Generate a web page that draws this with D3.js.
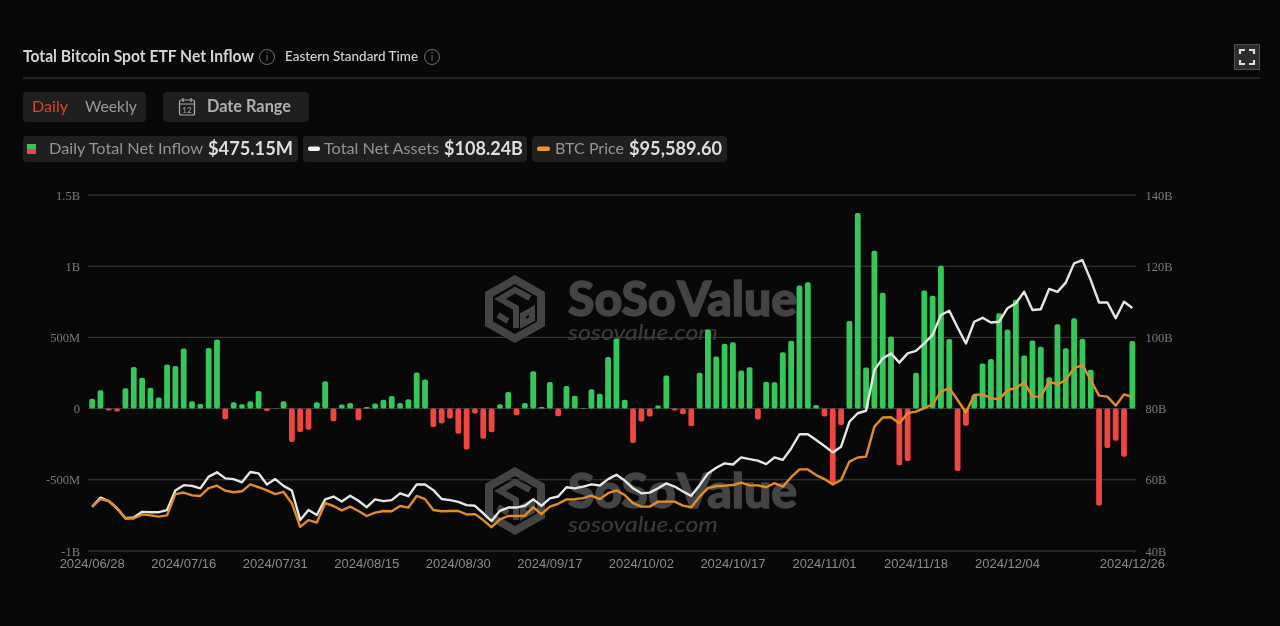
<!doctype html>
<html lang="en">
<head>
  <meta charset="utf-8">
  <title>Total Bitcoin Spot ETF Net Inflow</title>
  <style>
    html, body { margin: 0; background: #080808; overflow: hidden; }
    svg { display: block; font-family: Lato, sans-serif; filter: blur(0.35px); }
  </style>
</head>
<body>
  <script src="https://cdn.jsdelivr.net/npm/d3@7"></script>
  <script>
    // Trading days shown on the x axis
    const dates = [
      '2024/06/28','2024/07/01','2024/07/02','2024/07/03','2024/07/05','2024/07/08','2024/07/09','2024/07/10','2024/07/11','2024/07/12',
      '2024/07/15','2024/07/16','2024/07/17','2024/07/18','2024/07/19','2024/07/22','2024/07/23','2024/07/24','2024/07/25','2024/07/26',
      '2024/07/29','2024/07/30','2024/07/31','2024/08/01','2024/08/02','2024/08/05','2024/08/06','2024/08/07','2024/08/08','2024/08/09',
      '2024/08/12','2024/08/13','2024/08/14','2024/08/15','2024/08/16','2024/08/19','2024/08/20','2024/08/21','2024/08/22','2024/08/23',
      '2024/08/26','2024/08/27','2024/08/28','2024/08/29','2024/08/30','2024/09/03','2024/09/04','2024/09/05','2024/09/06','2024/09/09',
      '2024/09/10','2024/09/11','2024/09/12','2024/09/13','2024/09/16','2024/09/17','2024/09/18','2024/09/19','2024/09/20','2024/09/23',
      '2024/09/24','2024/09/25','2024/09/26','2024/09/27','2024/09/30','2024/10/01','2024/10/02','2024/10/03','2024/10/04','2024/10/07',
      '2024/10/08','2024/10/09','2024/10/10','2024/10/11','2024/10/14','2024/10/15','2024/10/16','2024/10/17','2024/10/18','2024/10/21',
      '2024/10/22','2024/10/23','2024/10/24','2024/10/25','2024/10/28','2024/10/29','2024/10/30','2024/10/31','2024/11/01','2024/11/04',
      '2024/11/05','2024/11/06','2024/11/07','2024/11/08','2024/11/11','2024/11/12','2024/11/13','2024/11/14','2024/11/15','2024/11/18',
      '2024/11/19','2024/11/20','2024/11/21','2024/11/22','2024/11/25','2024/11/26','2024/11/27','2024/11/29','2024/12/02','2024/12/03',
      '2024/12/04','2024/12/05','2024/12/06','2024/12/09','2024/12/10','2024/12/11','2024/12/12','2024/12/13','2024/12/16','2024/12/17',
      '2024/12/18','2024/12/19','2024/12/20','2024/12/23','2024/12/24','2024/12/26'
    ];

    // Daily total net inflow, $M
    const netInflow = [
      70,129,-13,-20,143,293,216,147,78,310,
      300,422,52,33,425,486,-75,45,30,52,
      124,-17,2,52,-235,-165,-148,45,192,-88,
      28,40,-82,12,35,63,89,40,66,253,
      204,-129,-105,-70,-176,-288,-35,-211,-166,30,
      117,-47,40,263,12,187,-54,159,91,5,
      136,105,363,492,63,-241,-91,-56,21,232,
      -14,-40,-124,251,555,366,455,466,267,290,
      -77,188,185,396,476,865,888,26,-56,-523,
      -115,616,1374,288,1109,813,506,-398,-368,251,
      830,792,1003,488,-438,-120,98,316,349,670,
      555,764,373,478,434,220,593,424,635,490,
      272,-680,-277,-225,-338,475
    ];

    // Total net assets, $B
    const netAssets = [
      52.4,55.0,54.0,52.0,49.2,49.4,51.0,50.9,50.9,51.5,
      57.0,58.5,58.3,57.6,60.9,62.1,60.4,60.2,59.3,62.2,
      61.8,58.7,60.2,58.3,57.0,48.7,51.5,50.1,54.5,55.3,
      53.9,55.5,54.1,52.3,54.5,54.0,54.3,56.2,55.4,58.7,
      58.7,57.1,54.6,54.3,53.8,52.9,52.7,50.6,48.4,51.3,
      52.2,52.2,52.7,54.5,52.7,54.8,55.3,57.9,57.6,58.1,
      58.7,58.4,60.2,61.4,59.8,57.6,56.2,56.4,57.6,59.0,
      58.1,56.7,55.5,58.5,61.8,63.4,64.6,64.3,66.3,65.8,
      65.4,64.4,66.3,65.6,68.8,72.8,72.8,71.2,69.5,67.7,
      69.3,76.3,78.7,79.4,90.8,94.1,95.5,92.9,95.5,96.2,
      98.3,100.7,106.3,107.5,102.8,98.3,104.4,105.5,104.2,104.4,
      108.2,109.6,112.8,107.7,107.9,113.6,112.8,115.4,120.8,121.7,
      116.1,109.8,109.8,105.4,110.0,108.24
    ];

    // BTC price, $K
    const btcPrice = [
      60.5,62.9,62.3,59.9,56.7,56.7,58.0,57.7,57.3,57.7,
      64.5,65.0,64.1,63.9,66.4,67.2,65.6,65.1,65.4,67.6,
      66.7,65.7,64.5,65.2,61.6,54.0,56.2,55.4,61.6,60.7,
      59.3,60.5,59.1,57.5,58.6,59.1,59.0,60.7,60.2,63.9,
      62.9,59.4,59.0,59.1,59.1,58.0,58.1,56.2,53.9,56.4,
      57.5,57.5,57.6,60.3,58.1,60.5,61.4,62.8,62.9,63.2,
      64.0,62.9,64.8,65.7,64.2,61.6,60.5,60.5,62.1,62.1,
      62.1,60.8,60.3,63.7,66.4,67.1,67.2,67.4,68.2,67.3,
      67.3,66.7,68.0,66.9,69.9,72.4,72.4,70.6,69.3,67.6,
      69.0,74.9,76.2,76.5,86.1,89.0,89.1,87.2,90.4,90.9,
      92.0,93.2,97.3,98.4,94.6,90.6,96.2,96.4,95.2,94.8,
      97.8,98.4,100.3,95.7,95.7,100.5,99.6,101.0,104.8,105.8,
      101.0,96.0,95.7,92.8,96.4,95.59
    ];

    // Tick values and labels
    const xTicks = ['2024/06/28','2024/07/16','2024/07/31','2024/08/15','2024/08/30','2024/09/17','2024/10/02','2024/10/17','2024/11/01','2024/11/18','2024/12/04','2024/12/26'];
    const leftTicks = [-1000,-500,0,500,1000,1500];
    const leftLabels = ['-1B','-500M','0','500M','1B','1.5B'];
    const rightTicks = [40,60,80,100,120,140];
    const rightLabels = ['40B','60B','80B','100B','120B','140B'];

    const w = 1280;
    const h = 626;
    const bg = '#080808';
    const plot = { left: 88, right: 1136.5, top: 195, bottom: 551 };

    const svg = d3.select('body')
                  .append('svg')
                  .attr('width', w)
                  .attr('height', h);

    svg.append('rect').attr('width', w).attr('height', h).attr('fill', bg);

    // Scales: the price line has its own hidden axis
    const xScale = d3.scaleBand().domain(dates).range([plot.left, plot.right]);
    const yInflow = d3.scaleLinear().domain([-1000, 1500]).range([plot.bottom, plot.top]);
    const yAssets = d3.scaleLinear().domain([40, 140]).range([plot.bottom, plot.top]);
    const yPrice = d3.scaleLinear().domain([46.3, 160.2]).range([plot.bottom, plot.top]);
    const xMid = (d) => xScale(d) + xScale.bandwidth() / 2;

    // Helper for header text, squeezed to the width seen in the picture
    function label(text, x, y, size, weight, color, width) {
      return svg.append('text')
                .attr('x', x)
                .attr('y', y)
                .attr('font-size', size)
                .attr('font-weight', weight)
                .attr('fill', color)
                .attr('textLength', width)
                .attr('lengthAdjust', 'spacingAndGlyphs')
                .text(text);
    }

    function infoIcon(cx, cy) {
      svg.append('circle').attr('cx', cx).attr('cy', cy).attr('r', 7.5).attr('fill', 'none').attr('stroke', '#6e6e6e').attr('stroke-width', 1);
      svg.append('text').attr('x', cx).attr('y', cy + 4).attr('text-anchor', 'middle').attr('font-size', 11).attr('fill', '#6e6e6e').text('i');
    }

    function chip(x, y, width, height) {
      svg.append('rect').attr('x', x).attr('y', y).attr('width', width).attr('height', height).attr('rx', 4).attr('fill', '#1f1f1f');
    }

    // Header
    label('Total Bitcoin Spot ETF Net Inflow', 23, 62, 17, 700, '#d4d4d4', 231);
    infoIcon(267, 57);
    label('Eastern Standard Time', 285, 61, 14, 500, '#d4d4d4', 133);
    infoIcon(432, 57);
    svg.append('line').attr('x1', 23).attr('x2', 1260).attr('y1', 78).attr('y2', 78).attr('stroke', '#404040');

    // Fullscreen button
    svg.append('rect').attr('x', 1234.5).attr('y', 44.5).attr('width', 25).attr('height', 25).attr('fill', '#2c2c2c').attr('stroke', '#505050');
    svg.append('path')
       .attr('d', 'M1240 54v-4h5M1249 50h5v4M1254 60v4h-5M1245 64h-5v-4')
       .attr('fill', 'none').attr('stroke', '#dddddd').attr('stroke-width', 2.2);

    // Daily / Weekly and Date Range
    chip(23, 92, 123, 30);
    label('Daily', 32, 112, 16, 400, '#d9472b', 36);
    label('Weekly', 85, 112, 16, 400, '#999999', 52);
    chip(163, 92, 146, 30);
    svg.append('rect').attr('x', 179.5).attr('y', 100).attr('width', 15).attr('height', 15).attr('rx', 2).attr('fill', 'none').attr('stroke', '#aaa').attr('stroke-width', 1.2);
    svg.append('path').attr('d', 'M180 104h14M183 98v4M191 98v4').attr('stroke', '#aaa').attr('stroke-width', 1.2);
    svg.append('text').attr('x', 187).attr('y', 113).attr('text-anchor', 'middle').attr('font-size', 8).attr('fill', '#aaa').text('12');
    label('Date Range', 207, 112, 16.5, 700, '#b0b0b0', 84);

    // Legend chips
    chip(23, 136, 275, 26);
    chip(303, 136, 224, 26);
    chip(532, 136, 195, 26);
    svg.append('rect').attr('x', 27).attr('y', 144).attr('width', 9).attr('height', 5).attr('fill', '#34c759');
    svg.append('rect').attr('x', 27).attr('y', 149).attr('width', 9).attr('height', 5).attr('fill', '#ef4444');
    svg.append('rect').attr('x', 308).attr('y', 146.5).attr('width', 12).attr('height', 4.5).attr('rx', 2).attr('fill', '#f2f2f2');
    svg.append('rect').attr('x', 537).attr('y', 146.5).attr('width', 13).attr('height', 4.5).attr('rx', 2).attr('fill', '#f0952b');
    label('Daily Total Net Inflow', 49, 154, 16, 400, '#949494', 154);
    label('$475.15M', 208, 155, 18.5, 700, '#dedede', 85);
    label('Total Net Assets', 324, 154, 16, 400, '#949494', 115);
    label('$108.24B', 444, 155, 18.5, 700, '#dedede', 79);
    label('BTC Price', 555, 154, 16, 400, '#949494', 69);
    label('$95,589.60', 629, 155, 18.5, 700, '#dedede', 93);

    // Watermarks sit under the gridlines and marks
    function watermark(dy) {
      const g = svg.append('g').attr('transform', `translate(0, ${dy})`);
      const logo = g.append('g').attr('transform', 'translate(515, 309)');
      logo.append('path').attr('d', 'M0 -34L30 -17V17L0 34L-30 17V-17Z').attr('fill', '#444444');
      logo.append('path').attr('d', 'M0 -25L22 -12.5V12.5L0 25L-22 12.5V-12.5Z').attr('fill', bg);
      logo.append('path')
          .attr('d', 'M15 -11L0 -19L-15 -10L1 -1V19M-17 6L-7 12M8 6L17 1V10L8 15Z')
          .attr('fill', 'none').attr('stroke', '#444444').attr('stroke-width', 6).attr('stroke-linejoin', 'miter');
      g.append('text').attr('x', 568).attr('y', 316).attr('font-size', 47).attr('font-weight', 900)
       .attr('fill', '#444444').attr('stroke', '#444444').attr('stroke-width', 1.4).attr('word-spacing', -8)
       .attr('textLength', 229).attr('lengthAdjust', 'spacingAndGlyphs').text('SoSo Value');
      g.append('text').attr('x', 568).attr('y', 340).attr('font-size', 22).attr('font-style', 'italic')
       .attr('fill', '#3c3c3c').attr('textLength', 150).attr('lengthAdjust', 'spacingAndGlyphs').text('sosovalue.com');
    }
    watermark(0);
    watermark(192);

    // Gridlines
    svg.append('g')
       .selectAll('line')
       .data(leftTicks)
       .enter()
       .append('line')
       .attr('x1', plot.left)
       .attr('x2', plot.right)
       .attr('y1', (d) => yInflow(d))
       .attr('y2', (d) => yInflow(d))
       .attr('stroke', '#404040')
       .attr('stroke-width', 1);

    // Axes
    const leftAxis = d3.axisLeft(yInflow).tickValues(leftTicks).tickSize(0).tickPadding(8)
                       .tickFormat((d, i) => leftLabels[i]);
    const rightAxis = d3.axisRight(yAssets).tickValues(rightTicks).tickSize(0).tickPadding(9)
                        .tickFormat((d, i) => rightLabels[i]);
    const bottomAxis = d3.axisBottom(xScale).tickValues(xTicks).tickSize(0).tickPadding(8);

    const serifAxes = [
      svg.append('g').attr('transform', `translate(${plot.left}, 0)`).call(leftAxis),
      svg.append('g').attr('transform', `translate(${plot.right}, 0)`).call(rightAxis)
    ];
    serifAxes.forEach((g) => {
      g.select('.domain').remove();
      g.selectAll('text').attr('font-family', '"Liberation Serif", serif').attr('font-size', 12.5).attr('fill', '#7a7a7a');
    });

    const xAxisG = svg.append('g').attr('transform', `translate(0, ${plot.bottom})`).call(bottomAxis);
    xAxisG.select('.domain').remove();
    xAxisG.selectAll('text').attr('font-family', '"Liberation Sans", sans-serif').attr('font-size', 13).attr('fill', '#8a8a8a');

    // Net inflow bars
    const barWidth = 5.8;
    svg.append('g')
       .selectAll('rect')
       .data(netInflow)
       .enter()
       .append('rect')
       .attr('x', (d, i) => xMid(dates[i]) - barWidth / 2)
       .attr('y', (d) => yInflow(Math.max(d, 0)))
       .attr('width', barWidth)
       .attr('height', (d) => Math.abs(yInflow(d) - yInflow(0)))
       .attr('rx', 2)
       .attr('fill', (d) => d >= 0 ? '#36c75b' : '#ef4642');

    // Net assets and BTC price lines
    const assetsLine = d3.line().x((d, i) => xMid(dates[i])).y((d) => yAssets(d));
    const priceLine = d3.line().x((d, i) => xMid(dates[i])).y((d) => yPrice(d));

    svg.append('path')
       .attr('d', assetsLine(netAssets))
       .attr('fill', 'none')
       .attr('stroke', '#e6e6e6')
       .attr('stroke-width', 2.4)
       .attr('stroke-linejoin', 'round');

    svg.append('path')
       .attr('d', priceLine(btcPrice))
       .attr('fill', 'none')
       .attr('stroke', '#e38d2a')
       .attr('stroke-width', 2.4)
       .attr('stroke-linejoin', 'round');
  </script>
</body>
</html>
